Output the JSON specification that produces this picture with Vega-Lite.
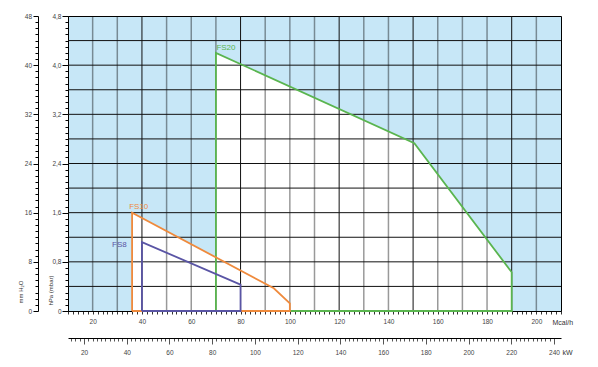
{
  "$schema": "https://vega.github.io/schema/vega-lite/v6.json",
  "width": 493,
  "height": 295,
  "autosize": {"type": "none"},
  "padding": {"left": 68, "top": 16, "right": 37, "bottom": 56},
  "background": "white",
  "config": {
    "view": {"fill": "#c7e7f7", "stroke": "#000", "strokeWidth": 1},
    "font": "Liberation Sans",
    "axis": {
      "grid": false,
      "labelFont": "Liberation Sans",
      "labelFontSize": 6.5,
      "labelColor": "#444",
      "domainColor": "#000",
      "tickColor": "#000",
      "labelOverlap": false,
      "labelFlush": false,
      "labelBound": false,
      "titleFont": "Liberation Sans",
      "titleFontWeight": "normal",
      "titleColor": "#333",
      "titleFontSize": 6
    }
  },
  "datasets": {
    "outline": [
      {"series": "FS20", "seq": 1, "mcal": 70, "hpa": 0},
      {"series": "FS20", "seq": 2, "mcal": 70, "hpa": 4.2},
      {"series": "FS20", "seq": 3, "mcal": 150.5, "hpa": 2.73},
      {"series": "FS20", "seq": 4, "mcal": 190, "hpa": 0.63},
      {"series": "FS20", "seq": 5, "mcal": 190, "hpa": 0},
      {"series": "FS20", "seq": 6, "mcal": 70, "hpa": 0},
      {"series": "FS10", "seq": 1, "mcal": 36, "hpa": 0},
      {"series": "FS10", "seq": 2, "mcal": 36, "hpa": 1.6},
      {"series": "FS10", "seq": 3, "mcal": 93.5, "hpa": 0.37},
      {"series": "FS10", "seq": 4, "mcal": 100, "hpa": 0.125},
      {"series": "FS10", "seq": 5, "mcal": 100, "hpa": 0},
      {"series": "FS10", "seq": 6, "mcal": 36, "hpa": 0},
      {"series": "FS8", "seq": 1, "mcal": 40, "hpa": 0},
      {"series": "FS8", "seq": 2, "mcal": 40, "hpa": 1.12},
      {"series": "FS8", "seq": 3, "mcal": 80, "hpa": 0.43},
      {"series": "FS8", "seq": 4, "mcal": 80, "hpa": 0},
      {"series": "FS8", "seq": 5, "mcal": 40, "hpa": 0}
    ],
    "labels": [
      {"series": "FS20", "mcal": 70.2, "hpa": 4.25},
      {"series": "FS10", "mcal": 34.8, "hpa": 1.66},
      {"series": "FS8", "mcal": 27.9, "hpa": 1.035}
    ],
    "gridLight": [
      {"mcal": 20}, {"mcal": 30}, {"mcal": 50}, {"mcal": 60}, {"mcal": 70},
      {"mcal": 90}, {"mcal": 100}, {"mcal": 110}, {"mcal": 130}, {"mcal": 140},
      {"mcal": 160}, {"mcal": 170}, {"mcal": 180}, {"mcal": 200}
    ],
    "gridDark": [
      {"mcal": 40}, {"mcal": 80}, {"mcal": 120}, {"mcal": 150}, {"mcal": 190}
    ],
    "gridH": [
      {"hpa": 0.4}, {"hpa": 0.8}, {"hpa": 1.2}, {"hpa": 1.6}, {"hpa": 2.0}, {"hpa": 2.4},
      {"hpa": 2.8}, {"hpa": 3.2}, {"hpa": 3.6}, {"hpa": 4.0}, {"hpa": 4.4}
    ],
    "kw": [
      {"kw": 20}, {"kw": 40}, {"kw": 60}, {"kw": 80}, {"kw": 100}, {"kw": 120},
      {"kw": 140}, {"kw": 160}, {"kw": 180}, {"kw": 200}, {"kw": 220}, {"kw": 240}
    ]
  },
  "resolve": {
    "scale": {"x": "independent", "y": "independent"},
    "axis": {"x": "independent", "y": "independent"}
  },
  "layer": [
    {
      "data": {"name": "outline"},
      "transform": [{"filter": "datum.hpa > 0"}],
      "mark": {"type": "area", "color": "white", "opacity": 1},
      "encoding": {
        "x": {
          "field": "mcal", "type": "quantitative",
          "scale": {"domain": [10, 210], "nice": false, "zero": false},
          "axis": {
            "orient": "bottom",
            "values": [10,12,14,16,18,20,22,24,26,28,30,32,34,36,38,40,42,44,46,48,50,52,54,56,58,60,62,64,66,68,70,72,74,76,78,80,82,84,86,88,90,92,94,96,98,100,102,104,106,108,110,112,114,116,118,120,122,124,126,128,130,132,134,136,138,140,142,144,146,148,150,152,154,156,158,160,162,164,166,168,170,172,174,176,178,180,182,184,186,188,190,192,194,196,198,200,202,204,206,208,210],
            "tickSize": 3,
            "tickColor": "#333",
            "labelPadding": 4,
            "labelExpr": "(datum.value % 20 == 0 && datum.value >= 20 && datum.value <= 200) ? datum.value : ''",
            "title": "Mcal/h",
            "titleX": 484,
            "titleY": 11,
            "titleAlign": "left",
            "titleBaseline": "middle",
            "titleFontSize": 7
          }
        },
        "y": {
          "field": "hpa", "type": "quantitative", "stack": null,
          "scale": {"domain": [0, 4.8], "nice": false, "zero": false},
          "axis": {
            "orient": "left",
            "values": [0,0.1,0.2,0.3,0.4,0.5,0.6,0.7,0.8,0.9,1.0,1.1,1.2,1.3,1.4,1.5,1.6,1.7,1.8,1.9,2.0,2.1,2.2,2.3,2.4,2.5,2.6,2.7,2.8,2.9,3.0,3.1,3.2,3.3,3.4,3.5,3.6,3.7,3.8,3.9,4.0,4.1,4.2,4.3,4.4,4.5,4.6,4.7,4.8],
            "tickSize": {"condition": {"test": "abs(datum.value*1.25 - round(datum.value*1.25)) < 0.01", "value": 6}, "value": 3},
            "labelPadding": 1,
            "labelExpr": "abs(datum.value*1.25 - round(datum.value*1.25)) < 0.01 ? (datum.value < 0.01 ? '0' : replace(format(datum.value, '.1f'), '.', ',')) : ''",
            "title": "hPa (mbar)",
            "titleX": -18,
            "titleY": 289,
            "titleAngle": 270,
            "titleAlign": "left",
            "titleBaseline": "middle"
          }
        },
        "detail": {"field": "series", "type": "nominal"}
      }
    },
    {
      "data": {"name": "gridLight"},
      "mark": {"type": "rule", "color": "#000", "opacity": 0.4, "strokeWidth": 1.5},
      "encoding": {
        "x": {"field": "mcal", "type": "quantitative", "scale": {"domain": [10, 210], "nice": false, "zero": false}, "axis": null}
      }
    },
    {
      "data": {"name": "gridDark"},
      "mark": {"type": "rule", "color": "#111", "strokeWidth": 1},
      "encoding": {
        "x": {"field": "mcal", "type": "quantitative", "scale": {"domain": [10, 210], "nice": false, "zero": false}, "axis": null}
      }
    },
    {
      "data": {"name": "gridH"},
      "mark": {"type": "rule", "color": "#111", "strokeWidth": 1},
      "encoding": {
        "y": {
          "field": "hpa", "type": "quantitative",
          "scale": {"domain": [0, 4.8], "nice": false, "zero": false},
          "axis": {
            "orient": "left",
            "offset": 30,
            "values": [0,0.1,0.2,0.3,0.4,0.5,0.6,0.7,0.8,0.9,1.0,1.1,1.2,1.3,1.4,1.5,1.6,1.7,1.8,1.9,2.0,2.1,2.2,2.3,2.4,2.5,2.6,2.7,2.8,2.9,3.0,3.1,3.2,3.3,3.4,3.5,3.6,3.7,3.8,3.9,4.0,4.1,4.2,4.3,4.4,4.5,4.6,4.7,4.8],
            "tickSize": {"condition": {"test": "abs(datum.value*1.25 - round(datum.value*1.25)) < 0.01", "value": 5}, "value": 3},
            "labelPadding": 1.5,
            "labelExpr": "abs(datum.value*1.25 - round(datum.value*1.25)) < 0.01 ? '' + round(datum.value*10) : ''",
            "title": "mm H₂O",
            "titleX": -17.5,
            "titleY": 287,
            "titleAngle": 270,
            "titleAlign": "left",
            "titleBaseline": "middle"
          }
        }
      }
    },
    {
      "data": {"name": "outline"},
      "mark": {"type": "line", "strokeWidth": 1.8},
      "encoding": {
        "x": {"field": "mcal", "type": "quantitative", "scale": {"domain": [10, 210], "nice": false, "zero": false}, "axis": null},
        "y": {"field": "hpa", "type": "quantitative", "scale": {"domain": [0, 4.8], "nice": false, "zero": false}, "axis": null},
        "color": {"field": "series", "type": "nominal", "scale": {"domain": ["FS20", "FS10", "FS8"], "range": ["#5ab54f", "#ef8a3c", "#5a55a5"]}, "legend": null},
        "order": {"field": "seq", "type": "quantitative"}
      }
    },
    {
      "data": {"name": "labels"},
      "mark": {"type": "text", "align": "left", "baseline": "alphabetic", "fontSize": 8, "font": "Liberation Sans"},
      "encoding": {
        "x": {"field": "mcal", "type": "quantitative", "scale": {"domain": [10, 210], "nice": false, "zero": false}, "axis": null},
        "y": {"field": "hpa", "type": "quantitative", "scale": {"domain": [0, 4.8], "nice": false, "zero": false}, "axis": null},
        "text": {"field": "series"},
        "color": {"field": "series", "type": "nominal", "scale": {"domain": ["FS20", "FS10", "FS8"], "range": ["#5ab54f", "#ef8a3c", "#5a55a5"]}, "legend": null}
      }
    },
    {
      "data": {"name": "kw"},
      "mark": {"type": "tick", "opacity": 0},
      "encoding": {
        "x": {
          "field": "kw", "type": "quantitative",
          "scale": {"domain": [12.5, 243.3], "nice": false, "zero": false},
          "axis": {
            "orient": "bottom",
            "offset": 27,
            "values": [14,16,18,20,22,24,26,28,30,32,34,36,38,40,42,44,46,48,50,52,54,56,58,60,62,64,66,68,70,72,74,76,78,80,82,84,86,88,90,92,94,96,98,100,102,104,106,108,110,112,114,116,118,120,122,124,126,128,130,132,134,136,138,140,142,144,146,148,150,152,154,156,158,160,162,164,166,168,170,172,174,176,178,180,182,184,186,188,190,192,194,196,198,200,202,204,206,208,210,212,214,216,218,220,222,224,226,228,230,232,234,236,238,240],
            "tickSize": {"condition": {"test": "datum.value % 20 == 0", "value": 6}, "value": 3},
            "tickColor": "#555",
            "labelPadding": 5,
            "labelExpr": "datum.value % 20 == 0 ? datum.value : ''",
            "title": "kW",
            "titleX": 494,
            "titleY": 14,
            "titleAlign": "left",
            "titleBaseline": "middle",
            "titleFontSize": 7
          }
        }
      }
    }
  ]
}
